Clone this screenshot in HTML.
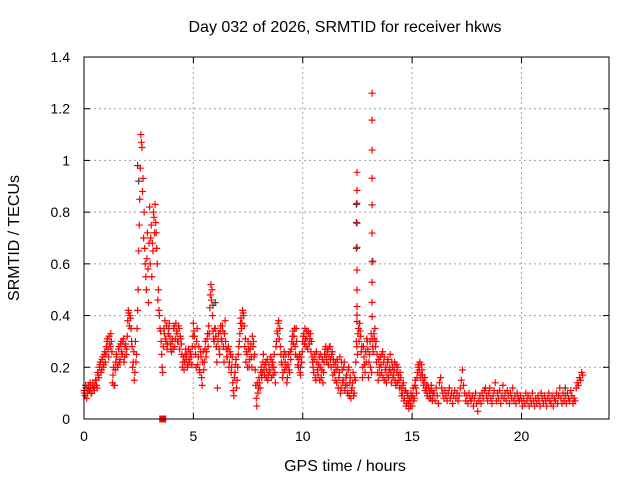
<!DOCTYPE html>
<html><head><meta charset="utf-8"><style>
body{margin:0;background:#fff;}
svg{display:block;font-family:"Liberation Sans",sans-serif;}
</style></head><body>
<svg id="chart" width="640" height="480" viewBox="0 0 640 480">
<rect width="640" height="480" fill="#fff"/>
<text x="345" y="32" text-anchor="middle" font-size="16">Day 032 of 2026, SRMTID for receiver hkws</text>
<text x="345" y="471" text-anchor="middle" font-size="16">GPS time / hours</text>
<text transform="translate(19,238) rotate(-90)" text-anchor="middle" font-size="16">SRMTID / TECUs</text>
<g id="grid"></g>
<g id="ticks"></g>
<g id="marks"></g>
<rect x="84" y="57" width="525" height="362" fill="none" stroke="#000" stroke-width="1"/>
</svg>
<script>
const xTicks=[0,5,10,15,20];
const yTicks=[0,0.2,0.4,0.6,0.8,1,1.2,1.4];
const yTickLabels=["0","0.2","0.4","0.6","0.8","1","1.2","1.4"];
const tStart=0, tStep=0.05;
const srmtid=[
0.11,0.09,0.12,0.10,0.13,0.11,0.12,0.10,0.14,0.12,0.13,0.15,0.12,0.17,0.20,0.22,0.19,0.24,0.21,0.26,
0.25,0.30,0.27,0.32,0.28,0.30,0.14,0.20,0.13,0.22,0.24,0.21,0.28,0.23,0.30,0.25,0.31,0.24,0.29,0.27,
0.38,0.41,0.40,0.35,0.28,0.22,0.15,0.30,0.25,0.42,0.65,0.85,1.10,1.05,0.93,0.80,0.60,0.50,0.72,0.45,
0.82,0.70,0.55,0.65,0.78,0.83,0.72,0.60,0.50,0.40,0.34,0.25,0.18,0.35,0.38,0.30,0.27,0.33,0.37,0.29,
0.26,0.31,0.35,0.28,0.37,0.33,0.30,0.35,0.32,0.29,0.20,0.24,0.22,0.27,0.25,0.21,0.23,0.26,0.24,0.28,
0.37,0.32,0.25,0.30,0.21,0.28,0.18,0.24,0.13,0.26,0.22,0.30,0.26,0.33,0.36,0.43,0.52,0.50,0.34,0.30,
0.35,0.28,0.12,0.33,0.25,0.36,0.30,0.34,0.22,0.38,0.27,0.24,0.28,0.22,0.25,0.20,0.14,0.09,0.18,0.23,
0.15,0.25,0.30,0.37,0.35,0.42,0.40,0.28,0.22,0.25,0.30,0.20,0.27,0.24,0.32,0.30,0.25,0.13,0.05,0.10,
0.16,0.12,0.20,0.18,0.25,0.17,0.22,0.19,0.15,0.21,0.18,0.23,0.20,0.17,0.25,0.14,0.30,0.33,0.38,0.35,
0.25,0.21,0.18,0.26,0.22,0.20,0.16,0.25,0.18,0.23,0.30,0.34,0.32,0.28,0.35,0.24,0.20,0.25,0.17,0.22,
0.30,0.33,0.35,0.28,0.31,0.34,0.29,0.33,0.30,0.22,0.18,0.25,0.15,0.22,0.17,0.24,0.20,0.16,0.23,0.18,
0.25,0.28,0.22,0.27,0.24,0.28,0.20,0.26,0.23,0.18,0.22,0.14,0.20,0.16,0.24,0.12,0.19,0.15,0.22,0.13,
0.17,0.10,0.20,0.14,0.08,0.12,0.18,0.10,0.15,0.30,0.25,0.35,0.37,0.32,0.28,0.20,0.24,0.18,0.22,0.30,
0.16,0.25,0.20,0.18,0.28,0.33,0.35,0.30,0.25,0.15,0.20,0.24,0.18,0.26,0.22,0.15,0.20,0.17,0.23,0.19,
0.25,0.14,0.20,0.17,0.22,0.13,0.18,0.20,0.15,0.18,0.12,0.10,0.14,0.08,0.11,0.06,0.09,0.04,0.07,0.10,
0.05,0.12,0.08,0.15,0.10,0.18,0.20,0.22,0.17,0.19,0.15,0.14,0.11,0.13,0.09,0.12,0.10,0.08,0.11,0.09,
0.10,0.07,0.12,0.09,0.06,0.14,0.16,0.12,0.10,0.08,0.11,0.09,0.07,0.10,0.12,0.08,0.10,0.06,0.09,0.11,
0.08,0.10,0.07,0.09,0.12,0.15,0.19,0.13,0.10,0.07,0.09,0.06,0.10,0.08,0.07,0.09,0.05,0.08,0.10,0.06,
0.03,0.07,0.09,0.06,0.10,0.08,0.11,0.12,0.09,0.07,0.10,0.12,0.08,0.06,0.09,0.11,0.14,0.07,0.10,0.08,
0.11,0.06,0.09,0.13,0.08,0.10,0.07,0.11,0.09,0.06,0.10,0.08,0.12,0.07,0.09,0.06,0.10,0.08,0.07,0.09,
0.07,0.05,0.08,0.06,0.10,0.07,0.09,0.05,0.08,0.06,0.10,0.07,0.05,0.08,0.06,0.09,0.07,0.05,0.10,0.08,
0.06,0.09,0.07,0.05,0.08,0.10,0.07,0.06,0.09,0.05,0.08,0.07,0.10,0.06,0.09,0.12,0.08,0.06,0.10,0.07,
0.09,0.06,0.10,0.08,0.07,0.11,0.09,0.06,0.08,0.07,0.12,0.14,0.13,0.16,0.15,0.18,0.17];
const tStartB=0.025;
const srmtidB=[
0.10,0.13,0.08,0.12,0.11,0.14,0.10,0.13,0.12,0.11,0.15,0.13,0.18,0.16,0.21,0.18,0.23,0.20,0.25,0.22,
0.28,0.31,0.24,0.29,0.33,0.26,0.17,0.13,0.19,0.25,0.20,0.27,0.22,0.29,0.26,0.30,0.22,0.28,0.25,0.32,
0.42,0.36,0.39,0.30,0.20,0.26,0.18,0.22,0.35,0.50,0.75,0.97,1.07,0.88,0.70,0.66,0.55,0.62,0.58,0.68,
0.60,0.75,0.68,0.80,0.72,0.76,0.66,0.46,0.42,0.35,0.30,0.20,0.28,0.33,0.31,0.36,0.29,0.35,0.32,0.27,
0.30,0.27,0.36,0.31,0.34,0.30,0.36,0.27,0.31,0.25,0.22,0.19,0.25,0.23,0.20,0.27,0.22,0.25,0.21,0.32,
0.34,0.28,0.20,0.35,0.24,0.19,0.26,0.16,0.22,0.19,0.27,0.24,0.31,0.28,0.33,0.48,0.46,0.40,0.31,0.35,
0.32,0.22,0.30,0.27,0.34,0.31,0.36,0.28,0.33,0.30,0.24,0.27,0.20,0.26,0.18,0.24,0.11,0.16,0.21,0.12,
0.20,0.28,0.33,0.39,0.37,0.41,0.36,0.31,0.26,0.20,0.27,0.23,0.29,0.20,0.28,0.24,0.19,0.08,0.14,0.12,
0.14,0.18,0.16,0.22,0.19,0.21,0.16,0.23,0.17,0.19,0.24,0.16,0.22,0.20,0.18,0.28,0.34,0.37,0.31,0.28,
0.22,0.16,0.24,0.19,0.25,0.14,0.21,0.19,0.26,0.27,0.32,0.29,0.35,0.25,0.30,0.21,0.23,0.18,0.24,0.26,
0.32,0.29,0.31,0.34,0.27,0.33,0.31,0.26,0.24,0.20,0.23,0.16,0.26,0.19,0.21,0.15,0.25,0.19,0.14,0.22,
0.27,0.24,0.26,0.21,0.28,0.23,0.25,0.17,0.21,0.15,0.19,0.23,0.12,0.18,0.10,0.22,0.14,0.20,0.11,0.16,
0.13,0.19,0.09,0.16,0.11,0.14,0.09,0.16,0.22,0.28,0.33,0.30,0.34,0.26,0.16,0.28,0.21,0.26,0.31,0.27,
0.22,0.30,0.33,0.31,0.26,0.31,0.28,0.22,0.18,0.23,0.17,0.21,0.25,0.16,0.24,0.19,0.14,0.22,0.16,0.20,
0.18,0.22,0.16,0.19,0.15,0.21,0.14,0.17,0.12,0.16,0.09,0.13,0.07,0.11,0.05,0.10,0.06,0.08,0.05,0.08,
0.09,0.07,0.13,0.12,0.16,0.21,0.19,0.16,0.21,0.17,0.13,0.16,0.12,0.10,0.13,0.08,0.11,0.13,0.07,0.10];
const spikeTimes=[12.48,12.48,12.48,12.48,12.48,12.48,12.48,12.48,12.48,12.48,13.17,13.17,13.17,13.17,13.17,13.17,13.17,13.17,13.17,13.17];
const spikeValues=[0.954,0.884,0.834,0.757,0.664,0.576,0.499,0.435,0.402,0.377,1.26,1.156,1.04,0.931,0.828,0.719,0.608,0.529,0.451,0.396];
const darkTimes=[2.45,2.5,12.45,12.45,12.45,13.2,5.9,6.0,9.9,22.0];
const darkValues=[0.98,0.92,0.83,0.76,0.66,0.61,0.44,0.45,0.20,0.12];
const squareTimes=[3.6];
const squareValues=[0];

const X0=84,X1=609,Y0=419,Y1=57,XMAX=24,YMAX=1.4;
const sx=v=>X0+v/XMAX*(X1-X0);
const sy=v=>Y0-v/YMAX*(Y0-Y1);
const NS="http://www.w3.org/2000/svg";
const grid=document.getElementById('grid'),ticks=document.getElementById('ticks'),marks=document.getElementById('marks');
function mk(tag,attrs,parent){const e=document.createElementNS(NS,tag);for(const k in attrs)e.setAttribute(k,attrs[k]);parent.appendChild(e);return e;}
xTicks.forEach(t=>{
  const x=sx(t);
  if(t>0){const g=mk('line',{x1:x,y1:Y0,x2:x,y2:Y1,stroke:'#a0a0a0','stroke-dasharray':'2,3'},grid);
  
  }
  const a=mk('line',{x1:x,y1:Y0,x2:x,y2:Y0-6,stroke:'#000'},ticks);
  
  
  const b=mk('line',{x1:x,y1:Y1,x2:x,y2:Y1+6,stroke:'#000'},ticks);
  
  
  const l=mk('text',{x:x,y:Y0+22,'text-anchor':'middle','font-size':'14'},ticks);
  l.textContent=String(t);
  
  
});
yTicks.forEach((t,i)=>{
  const y=sy(t);
  if(t>0&&t<YMAX){const g=mk('line',{x1:X0,y1:y,x2:X1,y2:y,stroke:'#a0a0a0','stroke-dasharray':'2,3'},grid);
  
  }
  const a=mk('line',{x1:X0,y1:y,x2:X0+6,y2:y,stroke:'#000'},ticks);
  
  
  const b=mk('line',{x1:X1,y1:y,x2:X1-6,y2:y,stroke:'#000'},ticks);
  
  
  const l=mk('text',{x:X0-14,y:y+5,'text-anchor':'end','font-size':'14'},ticks);
  l.textContent=yTickLabels[i];
  
  
});
function plus(t,v,color,name){
  const x=sx(t),y=sy(v);
  const p=mk('path',{d:`M${x-3.5},${y}H${x+3.5}M${x},${y-3.5}V${y+3.5}`,stroke:color,'stroke-width':'1.2',fill:'none'},marks);
  
  
}
darkTimes.forEach((t,i)=>plus(t,darkValues[i],'#404040','secondary-point'));
srmtid.forEach((v,i)=>plus(tStart+i*tStep,v,'#ff0000','srmtid-point'));
srmtidB.forEach((v,i)=>plus(tStartB+i*tStep,v,'#ff0000','srmtid-point'));
spikeTimes.forEach((t,i)=>plus(t,spikeValues[i],'#ff0000','srmtid-spike-point'));
squareTimes.forEach((t,i)=>{
  const s=mk('rect',{x:sx(t)-3.5,y:sy(squareValues[i])-3.5,width:7,height:7,fill:'#ff0000'},marks);
  
  
});
</script>
</body></html>
